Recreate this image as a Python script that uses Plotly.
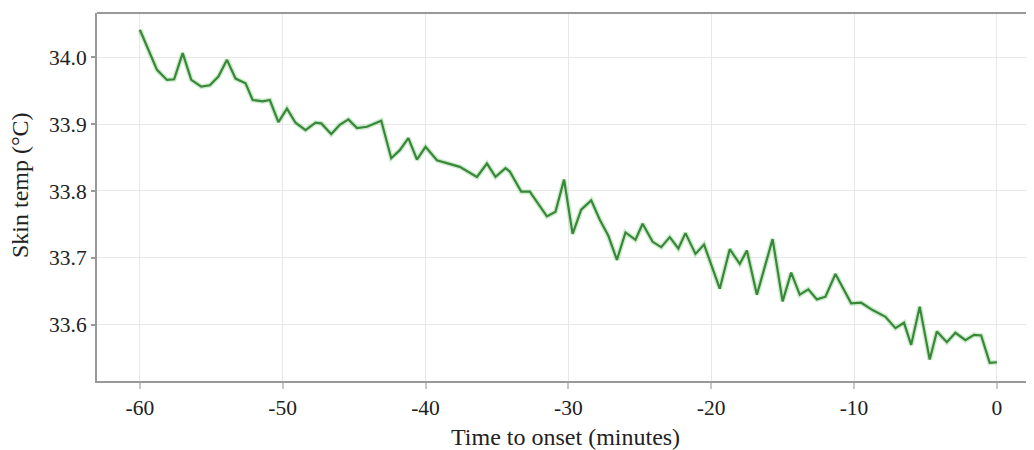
import plotly.graph_objects as go

minutes = [-60, -58.8, -58.1, -57.6, -57.0, -56.4, -55.7, -55.1, -54.5, -53.9,
           -53.3, -52.6, -52.1, -51.4, -50.9, -50.3, -49.7, -49.1, -48.4, -47.7,
           -47.3, -46.6, -46.0, -45.4, -44.8, -44.1, -43.1, -42.4, -41.8, -41.2,
           -40.6, -40.0, -39.2, -38.3, -37.6, -36.4, -35.7, -35.1, -34.4, -34.1,
           -33.3, -32.7, -31.5, -30.9, -30.3, -29.7, -29.1, -28.4, -27.8, -27.2,
           -26.6, -26.0, -25.3, -24.8, -24.1, -23.5, -22.9, -22.3, -21.8, -21.1,
           -20.5, -19.4, -18.7, -18.0, -17.5, -16.8, -15.7, -15.0, -14.4, -13.8,
           -13.2, -12.6, -12.0, -11.3, -10.2, -9.5, -8.7, -7.8, -7.1, -6.5,
           -6.0, -5.4, -4.7, -4.2, -3.5, -2.9, -2.2, -1.6, -1.1, -0.5, 0.0]
skin_temp = [34.041, 33.981, 33.966, 33.967, 34.006, 33.966, 33.956, 33.958, 33.971, 33.996,
             33.968, 33.961, 33.936, 33.934, 33.936, 33.903, 33.923, 33.902, 33.891, 33.902,
             33.901, 33.885, 33.899, 33.907, 33.894, 33.896, 33.905, 33.849, 33.861, 33.879,
             33.847, 33.866, 33.846, 33.841, 33.836, 33.821, 33.841, 33.821, 33.834, 33.829,
             33.799, 33.799, 33.762, 33.769, 33.817, 33.736, 33.772, 33.786, 33.757, 33.733,
             33.697, 33.738, 33.727, 33.751, 33.724, 33.716, 33.731, 33.714, 33.737, 33.706,
             33.720, 33.654, 33.713, 33.691, 33.711, 33.645, 33.728, 33.635, 33.678, 33.645,
             33.653, 33.638, 33.642, 33.676, 33.632, 33.633, 33.622, 33.612, 33.595, 33.603,
             33.570, 33.627, 33.548, 33.590, 33.574, 33.588, 33.577, 33.585, 33.584, 33.543, 33.544]

x_ticks = [-60, -50, -40, -30, -20, -10, 0]
y_ticks = [33.6, 33.7, 33.8, 33.9, 34.0]
x_title = "Time to onset (minutes)"
y_title = "Skin temp (°C)"

fig = go.Figure()
fig.add_trace(go.Scatter(x=minutes, y=skin_temp, mode="lines",
                         line=dict(color="rgba(110,200,110,0.35)", width=5),
                         hoverinfo="skip", showlegend=False))
fig.add_trace(go.Scatter(x=minutes, y=skin_temp, mode="lines",
                         line=dict(color="#3a863a", width=2.2),
                         showlegend=False))

font_family = "Liberation Serif, Times New Roman, serif"
fig.update_layout(
    width=1026, height=442,
    margin=dict(l=89, r=0, t=5, b=69),
    paper_bgcolor="white", plot_bgcolor="white",
    font=dict(family=font_family, size=21.5, color="#222"),
    xaxis=dict(range=[-63.0, 2.6], tickvals=x_ticks, ticktext=[str(v) for v in x_ticks],
               automargin=False,
               showgrid=True, gridcolor="#e8e8e8", gridwidth=1,
               showline=True, linecolor="#999", linewidth=2, mirror=False,
               ticks="outside", ticklen=6, tickcolor="#c8c8c8", tickwidth=2,
               zeroline=False,
               tickfont=dict(family=font_family, size=21.5, color="#222")),
    yaxis=dict(range=[33.516, 34.066], tickvals=y_ticks,
               ticktext=[f"{v:.1f}" for v in y_ticks],
               automargin=False,
               showgrid=True, gridcolor="#e8e8e8", gridwidth=1,
               showline=True, linecolor="#999", linewidth=2,
               ticks="outside", ticklen=4, tickcolor="#999", tickwidth=2,
               zeroline=False,
               tickfont=dict(family=font_family, size=21.5, color="#222")),
)
fig.add_annotation(text=x_title, xref="paper", yref="paper", x=0.5, y=-0.151,
                   xanchor="center", yanchor="middle", showarrow=False,
                   font=dict(family=font_family, size=24, color="#222"))
fig.add_annotation(text=y_title, xref="paper", yref="paper", x=-0.0822, y=0.5326,
                   xanchor="center", yanchor="middle", showarrow=False, textangle=-90,
                   font=dict(family=font_family, size=24, color="#222"))
# top border line
fig.add_shape(type="line", xref="paper", yref="paper", x0=0, x1=1, y0=1, y1=1,
              line=dict(color="#999", width=2))

fig.write_html("out.html")
